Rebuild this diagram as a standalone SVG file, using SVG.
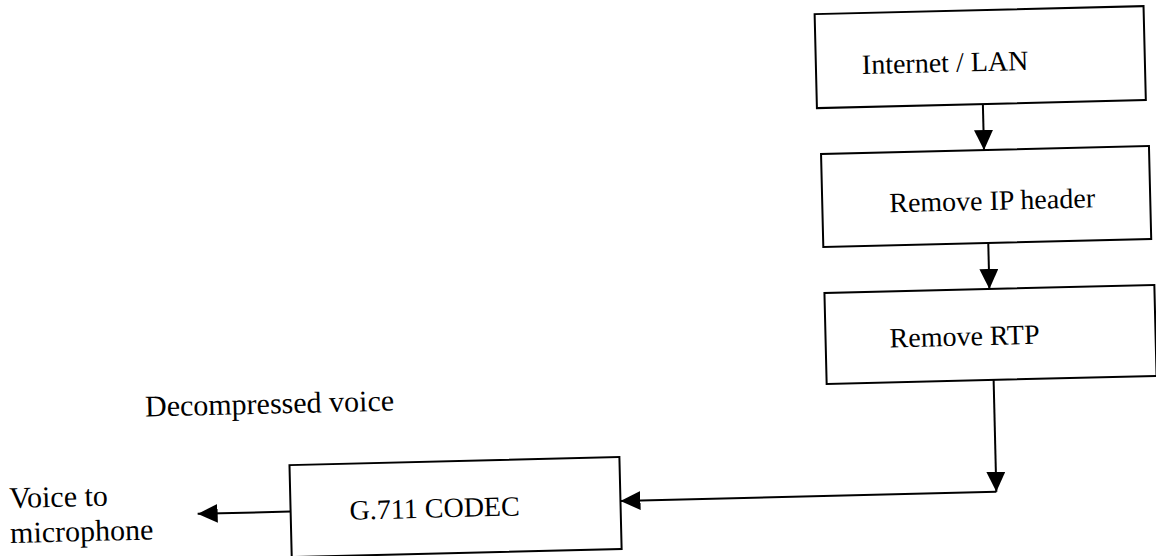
<svg xmlns="http://www.w3.org/2000/svg" width="1156" height="556" viewBox="0 0 1156 556">
<style>
.box{fill:#fff;stroke:#000;stroke-width:2}
.t{font-family:"Liberation Serif","Times New Roman",serif;font-size:28px;fill:#000}
.tl{font-family:"Liberation Serif","Times New Roman",serif;font-size:30px;fill:#000}
.c{fill:none;stroke:#000;stroke-width:2}
</style>
<defs>
<marker id="ah" markerUnits="userSpaceOnUse" markerWidth="20" markerHeight="19" refX="20" refY="9.5" orient="auto">
<path d="M0,0 L20,9.5 L0,19 Z" fill="#000"/>
</marker>
</defs>
<rect width="1156" height="556" fill="#fff"/>
<g transform="rotate(-1.4 578 278)">
<g id="internet">
<rect class="box" x="821" y="20" width="329" height="94"/>
<text class="t" x="867" y="81">Internet / LAN</text>
</g>
<g id="remove-ip">
<rect class="box" x="824" y="160" width="328" height="93"/>
<text class="t" x="891" y="220">Remove IP header</text>
</g>
<g id="remove-rtp">
<rect class="box" x="824" y="299" width="330" height="91"/>
<text class="t" x="888" y="355">Remove RTP</text>
</g>
<g id="codec">
<rect class="box" x="285" y="458" width="330" height="92"/>
<text class="t" x="344" y="514">G.711 CODEC</text>
</g>
<g id="labels">
<text class="tl" x="142" y="406">Decompressed voice</text>
<text class="tl" x="4" y="494">Voice to</text>
<text class="tl" x="4" y="529">microphone</text>
</g>
<g id="connectors">
<path class="c" d="M987,114 L987,160" marker-end="url(#ah)"/>
<path class="c" d="M989,253 L989,299" marker-end="url(#ah)"/>
<path class="c" d="M991,390 L991,502" marker-end="url(#ah)"/>
<path class="c" d="M991,502 L615,502" marker-end="url(#ah)"/>
<path class="c" d="M285,504.5 L192,504.5" marker-end="url(#ah)"/>
</g>
</g>
</svg>
